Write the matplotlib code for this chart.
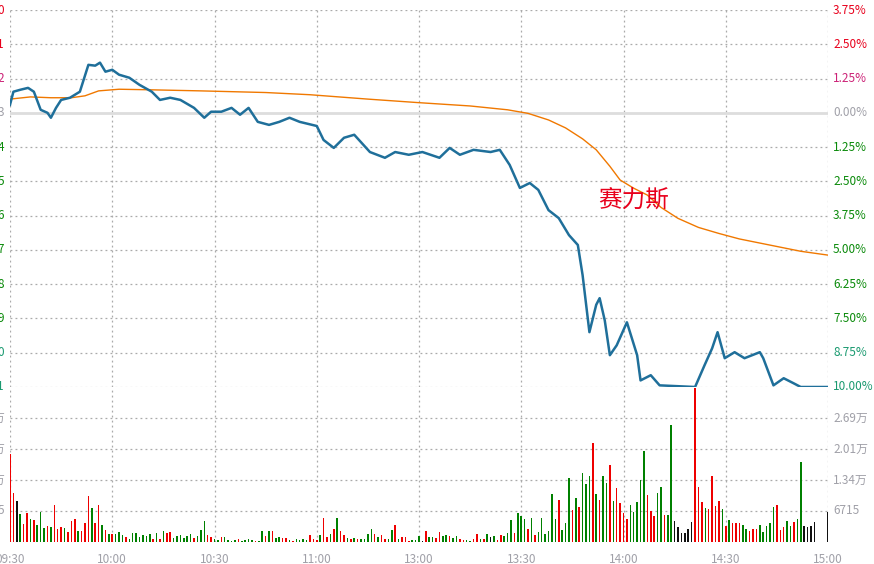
import matplotlib
matplotlib.use("Agg")
import matplotlib.pyplot as plt
import numpy as np

plt.rcParams['font.family'] = ['Noto Sans CJK SC', 'DejaVu Sans']

# price change (%) vs minute since 09:30 (trading minutes, 0..240)
price_min = [0,1,3,5.3,7,9,11,12,13.5,15,17.6,20.5,23,25,26.4,28,30,32,35,38,41.6,44,47,50,54,57,59,62,65,67.5,70,72.7,76,79,82,85,90,92,95,98,101,105.6,110,113,117,121,126,129,132,136,141,143.7,146.6,149.6,152.5,155,158,161,164,166.6,168,170,172,173,174.5,176,178,181,184,185,188,190.6,201,203.8,206,207.6,209.7,212.6,215.5,220,221,224,227,230,232,240]
price_pct = [0.29,0.77,0.84,0.91,0.77,0.11,0,-0.18,0.18,0.47,0.55,0.77,1.75,1.72,1.83,1.5,1.57,1.39,1.28,1.02,0.77,0.47,0.55,0.47,0.18,-0.18,0.04,0.04,0.18,-0.07,0.18,-0.33,-0.44,-0.33,-0.18,-0.33,-0.48,-0.99,-1.28,-0.91,-0.8,-1.43,-1.64,-1.43,-1.53,-1.43,-1.64,-1.28,-1.53,-1.35,-1.43,-1.35,-1.9,-2.74,-2.56,-2.81,-3.55,-3.84,-4.46,-4.82,-5.92,-8.0,-7.0,-6.76,-7.57,-8.84,-8.48,-7.64,-8.84,-9.76,-9.57,-9.94,-10.0,-9.2,-8.59,-8.0,-8.95,-8.73,-8.95,-8.73,-8.95,-9.94,-9.68,-9.87,-10.0,-10.0]

avg_min = [0,6,12,18,22,26,32,41,56,75,88,105,120,135,146,152,158,163,168,172,176,179,183,187,191,196,202,208,214,222,232,240]
avg_pct = [0.5,0.58,0.55,0.55,0.62,0.80,0.86,0.84,0.80,0.74,0.66,0.50,0.37,0.25,0.11,-0.02,-0.26,-0.55,-0.95,-1.35,-1.95,-2.45,-2.75,-3.0,-3.45,-3.85,-4.18,-4.40,-4.60,-4.80,-5.05,-5.19]

# volume bar heights (units of 6715/93 shares) with colour code
vol_tokens = ("264r 148r 123k 84g 54r 86r 69g 66r 51g 90g 42g 49r 45g 111r 39r 45r 42g 30r 63r 69r 33g 33r 57r 138r 102g 57r 111r 51g 36r 24g "
              "24r 24g 30g 21g 15r 9g 27g 27g 15g 21g 18g 24g 9r 27g 9r 33g 27r 30r 12g 18g 21g 12g 18g 24g 12r 18g 36g 63g 21r 15r "
              "9g 6g 15r 15g 6g 3g 6g 9r 3g 6g 9g 6g 3r 3g 33g 18r 33g 33r 12g 15g 12r 12r 6g 3r 9g 6g 9g 6g 21r 9r "
              "6r 21g 72r 15r 24g 39r 72g 33r 21r 12g 9r 12g 9r 9g 9g 24g 39g 24r 15g 21r 9r 9g 36g 51r 9g 15r 15r 3r 6g 6g "
              "18g 3k 33r 15g 15g 12r 30r 18g 21g 18r 12g 18g 9r 6r 6g 3g 9r 24r 9g 9r 24g 15k 18g 6r 21r 18g 27g 66g 27r 87g "
              "78g 69g 39r 72g 21r 30g 72g 24g 33g 144g 69g 126r 36g 57g 192g 96r 132g 105r 207g 174g 198g 297r 144g 126r 198g 177g 231r 123g 162r 117r "
              "87r 69r 111g 90g 120g 186g 273g 141r 93r 78r 147g 165g 81r 81g 351g 63k 45k 27k 27k 39k 60k 462r 165r 120r 102g 99r 198r 108r 123r 99g "
              "48r 66g 57r 57r 57r 51g 39g 33r 39r 39r 51g 30g 48g 57g 105g 111r 36r 45r 63g 48g 60r 69g 240g 48k 45k 48k 60k 0k 0k 0k 90k").split()
vol_units = [int(t[:-1]) for t in vol_tokens]
vol_col = [t[-1] for t in vol_tokens]
unit = 6715 / 93.0
volume = [v * unit for v in vol_units]

xtick_labels = ["09:30","10:00","10:30","11:00","13:00","13:30","14:00","14:30","15:00"]
pct_ticks = [3.75,2.5,1.25,0,-1.25,-2.5,-3.75,-5,-6.25,-7.5,-8.75,-10]
left_digits = ["0","1","2","3","4","5","6","7","8","9","0","1"]
vol_ticks = [6715,13430,20145,26860,33575]
vol_labels = ["6715","1.34万","2.01万","2.69万",""]

RED = "#e8001c"; GREEN = "#0a8a0a"; GRAY = "#a0a0a8"
cmap = {'r': "#ee0000", 'g': "#008000", 'k': "#111111"}

W, H = 874, 564
fig = plt.figure(figsize=(W/100, H/100), dpi=100)
L, R = 10/W, 828/W
axp = fig.add_axes([L, 1-387/H, R-L, (387-10)/H])
axv = fig.add_axes([L, 1-542/H, R-L, (542-387)/H])

for ax in (axp, axv):
    ax.set_xlim(0, 240)
    for s in ax.spines.values():
        s.set_visible(False)
    for xv in range(0, 241, 30):
        ax.axvline(xv, color="#aaaaaa", ls=(0, (1.5, 2.5)), lw=0.9, zorder=0)
    ax.tick_params(left=False, right=False, bottom=False, top=False, labelleft=False, labelbottom=False)

axp.set_ylim(-10, 3.75)
for t in pct_ticks:
    if t == 0:
        axp.axhline(0, color="#dddddd", lw=2, zorder=0)
    elif t != -10:
        axp.axhline(t, color="#aaaaaa", ls=(0, (1.5, 2.5)), lw=0.9, zorder=0)
axp.axhline(-10, color="#cccccc", ls=(0, (1.5, 2.5)), lw=0.9, zorder=0)
axp.plot(avg_min, avg_pct, color="#f07800", lw=1.0, zorder=2)
axp.plot(price_min, price_pct, color="#1f6f9a", lw=1.8, zorder=3)
axp.text(183, -3.2, "赛力斯", color=RED, fontsize=17, ha="center", va="center")

for t, d in zip(pct_ticks, left_digits):
    c = RED if t > 0 else (GRAY if t == 0 else GREEN)
    if t == 1.25: c = "#cc2277"
    if t <= -8.75: c = "#1a9a70"
    axp.text(-1.8, t, d, color=c, fontsize=8.5, ha="right", va="center", clip_on=False)
    lab = ("%.2f%%" % abs(t))
    axp.text(241.5, t, lab, color=c, fontsize=8.5, ha="left", va="center", clip_on=False)

axv.set_ylim(0, 33575)
for t in vol_ticks[:-1]:
    axv.axhline(t, color="#aaaaaa", ls=(0, (1.5, 2.5)), lw=0.9, zorder=0)
for t, l in zip(vol_ticks, vol_labels):
    if l:
        axv.text(241.5, t, l, color=GRAY, fontsize=8.5, ha="left", va="center", clip_on=False)
    if t < 33575:
        axv.text(-1.8, t, "5" if t == 6715 else "万", color=GRAY, fontsize=8.5, ha="right", va="center", clip_on=False)
n = len(volume)
xs = np.linspace(0, 240, n)
axv.bar(xs, volume, width=0.45, color=[cmap[c] for c in vol_col], zorder=2)
for i, lab in enumerate(xtick_labels):
    axv.text(i*30, -2300, lab, color=GRAY, fontsize=8.5, ha="center", va="top", clip_on=False)

fig.savefig("out.png", dpi=100)
